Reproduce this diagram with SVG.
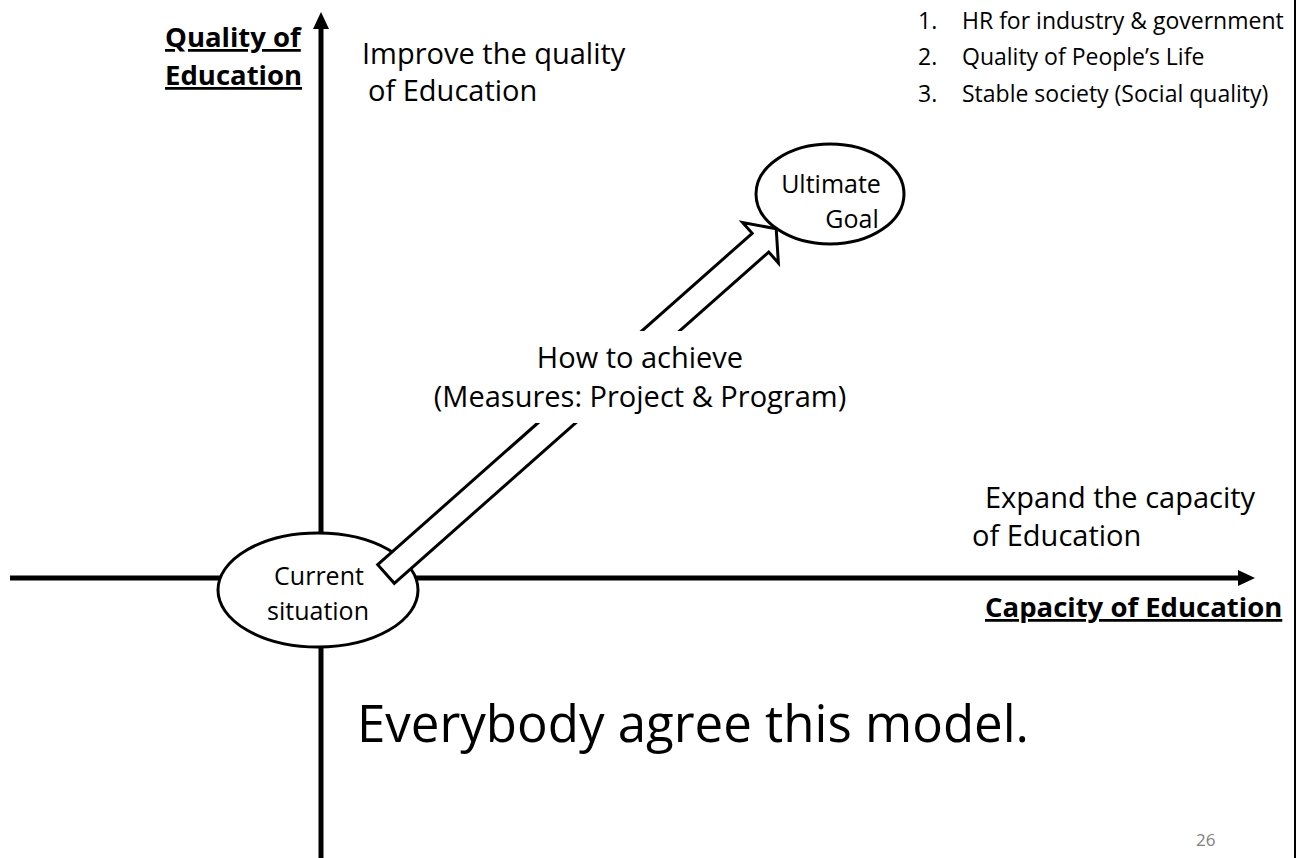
<svg xmlns="http://www.w3.org/2000/svg" width="1299" height="858" viewBox="0 0 1299 858">
<style>
text { font-family: 'Open Sans', 'Liberation Sans', sans-serif; fill: #000; }
.t { font-size: 29px; }
.s { font-size: 25px; }
.l { font-size: 23px; }
.b { font-size: 27.5px; font-weight: 700; text-decoration: underline; text-decoration-skip-ink: none; }
.big { font-size: 51px; }
.pg { font-size: 17px; fill: #808080; }
.node { fill: #fff; stroke: #000; stroke-width: 3; }
.axis { stroke: #000; stroke-width: 5; fill: none; }
.blk { fill: #fff; stroke: #000; stroke-width: 3; stroke-linejoin: miter; }
</style>
<defs>
<marker id="ah" markerUnits="userSpaceOnUse" markerWidth="17" markerHeight="16" refX="2" refY="8" orient="auto">
<path d="M0,0 L17,8 L0,16 z" fill="#000"/>
</marker>
</defs>
<rect width="1299" height="858" fill="#fff"/>
<line x1="1295" y1="0" x2="1295" y2="858" stroke="#000" stroke-width="2"/>
<g id="axes">
<line class="axis" x1="321" y1="858" x2="321" y2="27" marker-end="url(#ah)"/>
<line class="axis" x1="10" y1="578" x2="1240" y2="578" marker-end="url(#ah)"/>
</g>
<g id="axis-labels">
<text class="b" x="165" y="47">Quality of</text>
<text class="b" x="165" y="85">Education</text>
<text class="b" x="985" y="617">Capacity of Education</text>
</g>
<g id="quality-note">
<text class="t" x="362" y="64">Improve the quality</text>
<text class="t" x="368" y="101">of Education</text>
</g>
<g id="capacity-note">
<text class="t" x="985" y="508">Expand the capacity</text>
<text class="t" x="972" y="546">of Education</text>
</g>
<g id="goal-list">
<text class="l" x="918" y="29">1.</text><text class="l" x="962" y="29">HR for industry &amp; government</text>
<text class="l" x="918" y="65">2.</text><text class="l" x="962" y="65">Quality of People’s Life</text>
<text class="l" x="918" y="102">3.</text><text class="l" x="962" y="102">Stable society (Social quality)</text>
</g>
<g id="current-situation">
<ellipse class="node" cx="318" cy="590" rx="100" ry="57"/>
<text class="s" x="319" y="585" text-anchor="middle">Current</text>
<text class="s" x="318" y="620" text-anchor="middle">situation</text>
</g>
<g id="ultimate-goal">
<ellipse class="node" cx="830" cy="194" rx="74" ry="50"/>
<text class="s" x="831" y="193" text-anchor="middle">Ultimate</text>
<text class="s" x="852" y="228" text-anchor="middle">Goal</text>
</g>
<g id="connectors">
<polygon class="blk" transform="translate(386,574) rotate(-41.5)" points="0,-12.5 500,-12.5 500,-27 521,0 500,27 500,12.5 0,12.5"/>
</g>
<g id="arrow-label">
<rect x="425" y="331" width="430" height="92" fill="#fff"/>
<text class="t" x="640" y="368" text-anchor="middle">How to achieve</text>
<text class="t" x="640" y="407" text-anchor="middle">(Measures: Project &amp; Program)</text>
</g>
<g id="footer">
<text class="big" x="357" y="742">Everybody agree this model.</text>
<text class="pg" x="1196" y="846">26</text>
</g>
</svg>
